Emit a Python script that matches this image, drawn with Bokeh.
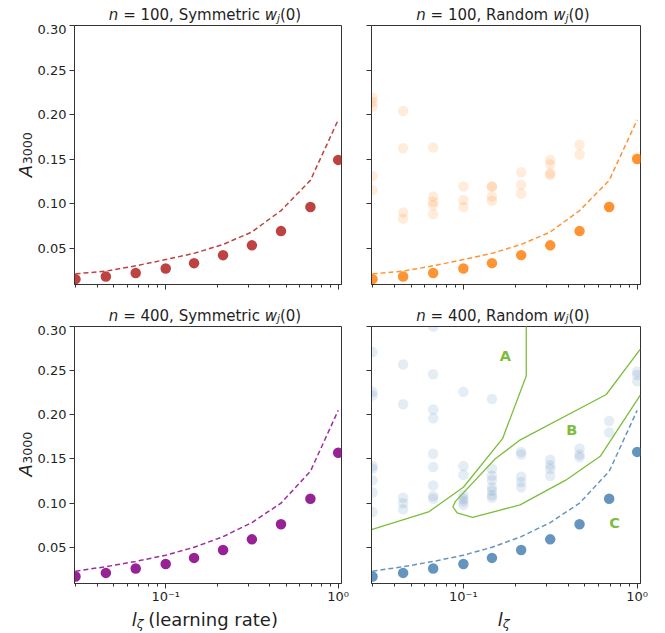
import math
from bokeh.plotting import figure
from bokeh.layouts import row, column
from bokeh.models import (FixedTicker, CustomJSTickFormatter, PrintfTickFormatter, Label,
                          Range1d, Spacer)
from bokeh.embed import file_html
from bokeh.resources import INLINE

# ---------------- data ----------------
lr = [0.030, 0.045, 0.067, 0.100, 0.146, 0.215, 0.316, 0.466, 0.690, 1.000]

sym100 = [0.015, 0.018, 0.022, 0.027, 0.033, 0.042, 0.053, 0.069, 0.096, 0.149]
theory100 = [0.021, 0.024, 0.030, 0.037, 0.044, 0.054, 0.068, 0.092, 0.126, 0.194]
rand100 = [0.015, 0.018, 0.022, 0.027, 0.033, 0.042, 0.053, 0.069, 0.096, 0.150]
rand100_runs = [
    [0.219, 0.214, 0.209, 0.131, 0.115],
    [0.204, 0.162, 0.090, 0.083],
    [0.163, 0.108, 0.102, 0.098, 0.088],
    [0.119, 0.104, 0.096],
    [0.119, 0.119, 0.108, 0.103],
    [0.135, 0.121, 0.111],
    [0.149, 0.144, 0.134, 0.132],
    [0.166, 0.155],
    [0.097],
    [0.152],
]

sym400 = [0.017, 0.021, 0.026, 0.031, 0.038, 0.047, 0.059, 0.076, 0.105, 0.157]
theory400 = [0.023, 0.028, 0.034, 0.041, 0.050, 0.062, 0.078, 0.100, 0.136, 0.205]
rand400 = [0.017, 0.021, 0.026, 0.031, 0.038, 0.047, 0.059, 0.076, 0.105, 0.158]
rand400_runs = [
    [0.271, 0.226, 0.222, 0.142, 0.139, 0.126, 0.112, 0.090],
    [0.257, 0.212, 0.106, 0.100, 0.093],
    [0.300, 0.246, 0.206, 0.196, 0.156, 0.141, 0.120, 0.108, 0.105],
    [0.226, 0.142, 0.132, 0.109, 0.105, 0.102, 0.098],
    [0.218, 0.139, 0.131, 0.126, 0.118, 0.114, 0.109, 0.106],
    [0.158, 0.155, 0.130, 0.124, 0.118],
    [0.149, 0.143, 0.139, 0.131],
    [0.162, 0.155, 0.152],
    [0.193, 0.180],
    [0.249, 0.245, 0.238],
]

boundary_A_x = [0.0296, 0.063, 0.100, 0.168, 0.230, 0.230]
boundary_A_y = [0.070, 0.090, 0.118, 0.173, 0.244, 0.310]
boundary_B_x = [1.040, 0.664, 0.210, 0.152, 0.090, 0.087, 0.092, 0.113, 0.212, 0.388, 0.613, 1.040]
boundary_B_y = [0.274, 0.223, 0.171, 0.150, 0.102, 0.096, 0.089, 0.084, 0.098, 0.126, 0.153, 0.222]
region_labels = ["A", "B", "C"]
region_x = [0.1746, 0.421, 0.740]
region_y = [0.267, 0.183, 0.0775]

xtick_values = [0.1, 1.0]
xtick_labels = ["10\u207b\u00b9", "10\u2070"]
xminor_values = [0.03, 0.04, 0.05, 0.06, 0.07, 0.08, 0.09,
                 0.2, 0.3, 0.4, 0.5, 0.6, 0.7, 0.8, 0.9]
ytick_values = [0.05, 0.10, 0.15, 0.20, 0.25, 0.30]

titles = [("100", "Symmetric"), ("100", "Random"), ("400", "Symmetric"), ("400", "Random")]

# ---------------- styling ----------------
FONT = "DejaVu Sans"
TXT = "#1f1f1f"
AX = "#333333"
X_RANGE = (0.0296, 1.045)
Y_RANGE = (0.009, 0.30)

RED = "#b22222"
ORANGE = "#ff8110"
PURPLE = "#8b0a8b"
BLUE = "#4a82b4"
GREEN = "#7dbd3c"

# DejaVu Sans advance widths (em), used to chain mixed-style text pieces
ADV = {" ": .318, "(": .390, ")": .390, ",": .318, "=": .838, "A": .684, "S": .635,
       "R": .695, "a": .613, "c": .550, "d": .635, "e": .615, "g": .635, "i": .278,
       "j": .278, "l": .278, "m": .974, "n": .634, "o": .612, "r": .411, "t": .392,
       "w": .818, "y": .592, "\u03b6": .45}
for ch in "0123456789":
    ADV[ch] = .636

SHIFT = 3.5  # measured downward offset of alphabetic-baseline labels in this renderer


def tw(s, size):
    return sum(ADV.get(c, .6) for c in s) * size


def strip(w, h, fw=None, fh=None):
    s = figure(width=w, height=h, x_range=Range1d(0, fw or w), y_range=Range1d(0, fh or h),
               min_border=0, toolbar_location=None, output_backend="svg", title=None,
               x_axis_location=None, y_axis_location=None,
               background_fill_color="white", border_fill_color="white")
    s.outline_line_color = None
    s.grid.visible = False
    return s


def add_text(p, x, y, text, size, style="normal", angle=0.0, color=TXT):
    p.add_layout(Label(x=x, y=y, text=text, text_font=FONT, text_font_size=f"{size}px",
                       text_font_style=style, text_color=color, angle=angle,
                       text_align="left", text_baseline="alphabetic"))


def add_pieces(p, center, base, pieces):
    total = sum(tw(t, s) for t, s, _, _ in pieces)
    x = center - total / 2
    for txt, size, style, dy in pieces:
        lead = len(txt) - len(txt.lstrip(" "))
        add_text(p, x + tw(" " * lead, size), base + dy, txt.strip(" "), size, style)
        x += tw(txt, size)


def make_fig(fw, fh, bl, br, bt, bb, show_x, show_y):
    p = figure(x_axis_type="log", x_range=Range1d(*X_RANGE), y_range=Range1d(*Y_RANGE),
               frame_width=fw, frame_height=fh, min_border_left=bl, min_border_right=br,
               min_border_top=bt, min_border_bottom=bb, toolbar_location=None, title=None,
               output_backend="svg", background_fill_color="white", border_fill_color="white")
    p.grid.visible = False
    p.outline_line_color = AX
    p.outline_line_width = 1
    for ax in (p.xaxis[0], p.yaxis[0]):
        ax.axis_line_color = AX
        ax.major_tick_line_color = AX
        ax.minor_tick_line_color = AX
        ax.major_tick_out = 5
        ax.major_tick_in = 0
        ax.minor_tick_out = 3
        ax.minor_tick_in = 0
        ax.major_label_text_font = FONT
        ax.major_label_text_font_size = "13px"
        ax.major_label_text_color = TXT
    p.xaxis.ticker = FixedTicker(ticks=xtick_values, minor_ticks=xminor_values)
    p.yaxis.ticker = FixedTicker(ticks=ytick_values, minor_ticks=[])
    if show_x:
        p.xaxis.formatter = CustomJSTickFormatter(
            args=dict(vals=xtick_values, labs=xtick_labels),
            code="const i = vals.findIndex(v => Math.abs(v - tick) < 1e-9); return i >= 0 ? labs[i] : '';")
        p.xaxis.major_label_standoff = 0
    else:
        p.xaxis.formatter = CustomJSTickFormatter(code="return '';")
        p.xaxis.major_label_standoff = 0
        p.xaxis.major_label_text_font_size = "0px"
    if show_y:
        p.yaxis.formatter = PrintfTickFormatter(format="%.2f")
        p.yaxis.major_label_standoff = 3
    else:
        p.yaxis.formatter = CustomJSTickFormatter(code="return '';")
        p.yaxis.major_label_standoff = 0
        p.yaxis.major_label_text_font_size = "0px"
    return p


def draw_runs(p, runs, color):
    fx, fy = [], []
    for xv, vals in zip(lr, runs):
        for v in vals:
            fx.append(xv)
            fy.append(v)
    p.scatter(fx, fy, size=10.5, color=color, alpha=0.15, line_color=None)


def finish_panel(p, main, theory, color, main_alpha=0.85):
    p.line(lr, theory, line_color=color, line_width=1.5, line_dash="5 3", line_alpha=0.85)
    p.scatter(lr, main, size=10.5, color=color, alpha=main_alpha, line_color=None)


# ---------------- geometry ----------------
YSTRIP_W = 34
FW1, FW2 = 267, 269
FH1, FH2 = 259, 257
BL1, BR1 = 37, 10
BL2, BR2 = 20, 20
W1 = BL1 + FW1 + BR1
W2 = BL2 + FW2 + BR2
TOP1_H, TOP2_H, XL_H = 24, 31, 28
BT, BB1, BB2 = 1, 10, 22

p1 = make_fig(FW1, FH1, BL1, BR1, BT, BB1, False, True)
finish_panel(p1, sym100, theory100, RED)

p2 = make_fig(FW2, FH1, BL2, BR2, BT, BB1, False, False)
draw_runs(p2, rand100_runs, ORANGE)
finish_panel(p2, rand100, theory100, ORANGE)

p3 = make_fig(FW1, FH2, BL1, BR1, BT, BB2, True, True)
finish_panel(p3, sym400, theory400, PURPLE, 0.9)

p4 = make_fig(FW2, FH2, BL2, BR2, BT, BB2, True, False)
draw_runs(p4, rand400_runs, BLUE)
p4.line(boundary_A_x, boundary_A_y, line_color=GREEN, line_width=1.3)
p4.line(boundary_B_x, boundary_B_y, line_color=GREEN, line_width=1.3)
for t, xv, yv in zip(region_labels, region_x, region_y):
    p4.add_layout(Label(x=xv, y=yv, text=t, text_font=FONT, text_font_size="14.5px",
                        text_font_style="bold", text_color=GREEN, text_align="center",
                        text_baseline="middle"))
finish_panel(p4, rand400, theory400, BLUE)


# ---------------- titles:  n = ..., kind w_j(0) ----------------
def title_strip(w, h, center, base, title):
    s = strip(w, h)
    nval, kind = title
    add_pieces(s, center, base + SHIFT,
               [("n", 15, "italic", 0), (f" = {nval}, {kind} ", 15, "normal", 0),
                ("w", 15, "italic", 0), ("j", 10.5, "italic", -2.5),
                ("(0)", 15, "normal", 0)])
    return s


t1 = title_strip(W1, TOP1_H, BL1 + FW1 / 2, 5.8, titles[0])
t2 = title_strip(W2, TOP1_H, BL2 + FW2 / 2, 5.8, titles[1])
t3 = title_strip(W1, TOP2_H, BL1 + FW1 / 2, 6.2, titles[2])
t4 = title_strip(W2, TOP2_H, BL2 + FW2 / 2, 6.2, titles[3])


# ---------------- y labels  A_3000 (strip frame aligns with the plot frame) ----------------
def ylabel_strip(h, fh):
    s = strip(YSTRIP_W, h, fh=fh)
    ya = tw("A", 18)
    ys = tw("3000", 12.6)
    start = fh / 2 - (ya + ys) / 2
    add_text(s, 28 - SHIFT, start, "A", 18, "italic", angle=math.pi / 2)
    add_text(s, 30.5 - SHIFT, start + ya + 0.5, "3000", 12.6, "normal", angle=math.pi / 2)
    return s


H1 = BT + FH1 + BB1
H2 = BT + FH2 + BB2
y1 = ylabel_strip(H1, FH1)
y3 = ylabel_strip(H2, FH2)


# ---------------- x labels  l_zeta (learning rate) ----------------
def xlabel_strip(w, center, extra):
    s = strip(w, XL_H)
    pieces = [("l", 18, "italic", 0), ("\u03b6", 12.6, "italic", -4)]
    if extra:
        pieces.append((extra, 18, "normal", 0))
    add_pieces(s, center, 11.5 + SHIFT, pieces)
    return s


x3 = xlabel_strip(W1, BL1 + FW1 / 2, " (learning rate)")
x4 = xlabel_strip(W2, BL2 + FW2 / 2, "")

layout = column(
    row(Spacer(width=YSTRIP_W, height=TOP1_H), t1, t2),
    row(y1, p1, p2),
    row(Spacer(width=YSTRIP_W, height=TOP2_H), t3, t4),
    row(y3, p3, p4),
    row(Spacer(width=YSTRIP_W, height=XL_H), x3, x4),
)

open("out.html", "w").write(file_html(layout, INLINE))
